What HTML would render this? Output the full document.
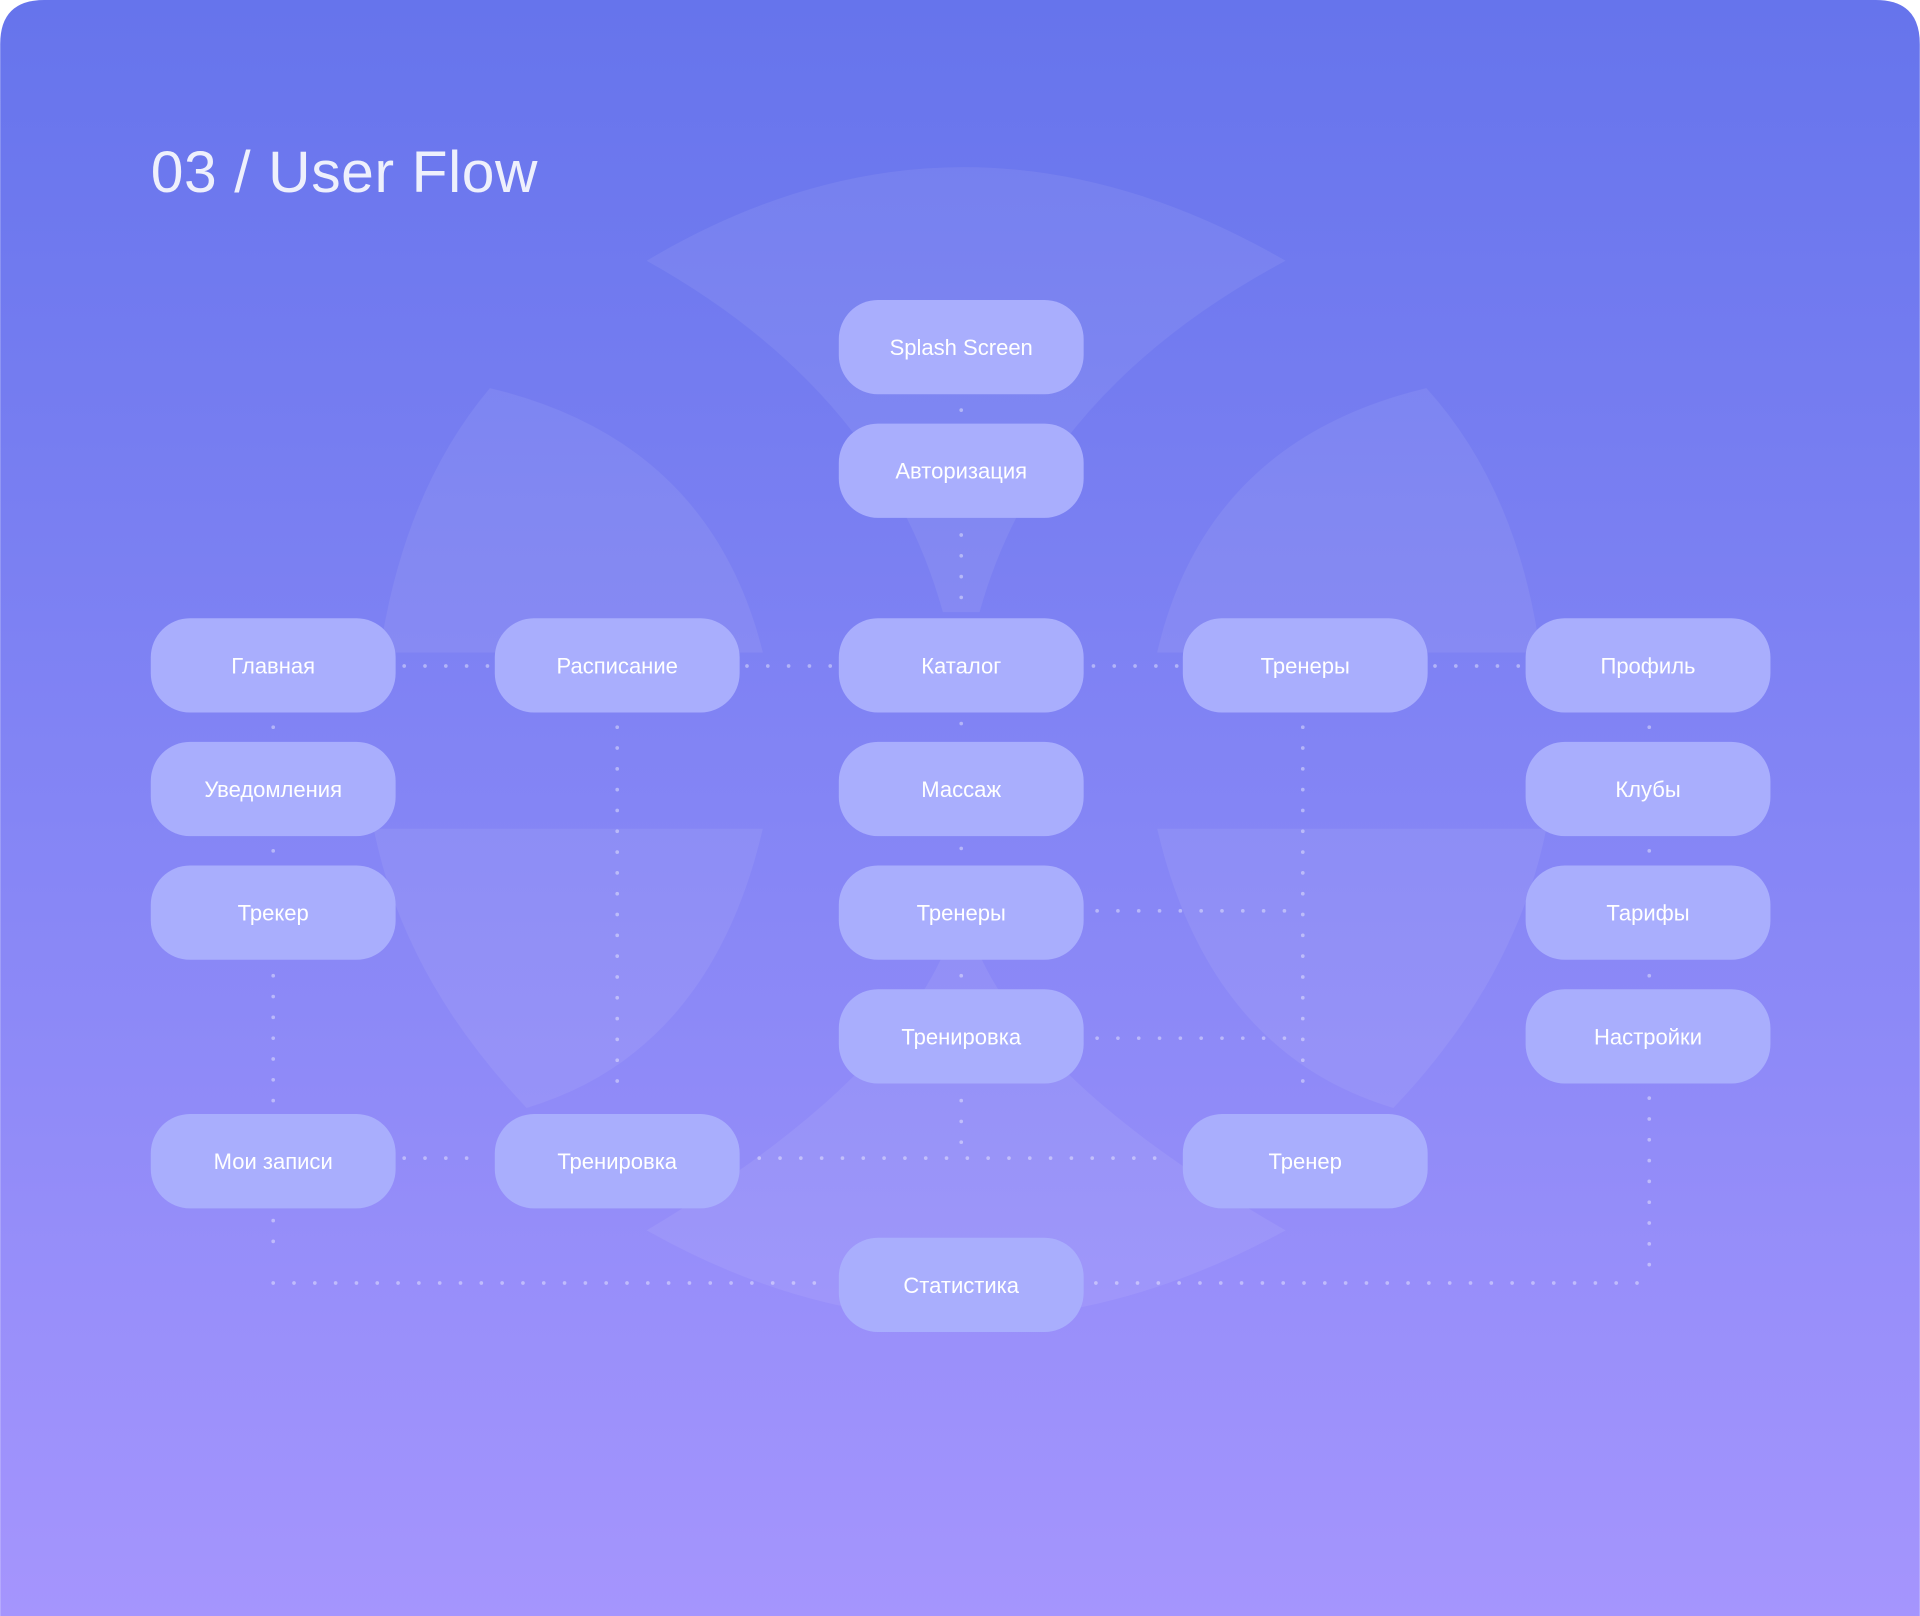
<!DOCTYPE html>
<html><head><meta charset="utf-8"><style>
html,body{margin:0;padding:0;background:#fff;}
svg{display:block;}
text{font-family:"Liberation Sans",sans-serif;}
</style></head><body>
<svg width="1920" height="1616" viewBox="0 0 1568 1320" xmlns="http://www.w3.org/2000/svg">
<defs>
<linearGradient id="bg" x1="0" y1="0" x2="0" y2="1">
<stop offset="0" stop-color="#6674ec"/><stop offset="0.5" stop-color="#8485f5"/><stop offset="1" stop-color="#a595fd"/>
</linearGradient>
</defs>
<path d="M0,36 Q0,0 36,0 L1532,0 Q1568,0 1568,36 L1568,1320 L0,1320 Z" fill="url(#bg)"/>
<g fill="#ffffff" fill-opacity="0.07">
<path d="M528,213 Q785,60 1050,213 Q850,320 800,500 L770,500 Q720,320 528,213 Z"/>
<path d="M528,1005 Q785,1150 1050,1005 Q850,890 800,780 L770,780 Q720,890 528,1005 Z"/>
<path d="M400,317 Q580,360 623,533 L310,533 Q330,400 400,317 Z"/>
<path d="M305,677 L623,677 Q580,860 430,905 Q330,800 305,677 Z"/>
<path d="M1165,317 Q985,360 945,533 L1258,533 Q1240,400 1165,317 Z"/>
<path d="M1263,677 L945,677 Q988,860 1138,905 Q1238,800 1263,677 Z"/>
</g>
<text x="123" y="157" font-size="48" letter-spacing="0.5" fill="#eef0fc">03 / User Flow</text>
<g stroke="#ffffff" stroke-opacity="0.4" stroke-width="3" stroke-linecap="round" stroke-dasharray="0 17" fill="none">
<path d="M785,335 L785,336"/>
<path d="M785,437 L785,495"/>
<path d="M785,591 L785,592"/>
<path d="M785,693 L785,694"/>
<path d="M785,797 L785,798"/>
<path d="M785,899 L785,935"/>
<path d="M620,946 L950,946"/>
<path d="M330,544 L400,544"/>
<path d="M610,544 L680,544"/>
<path d="M893,544 L963,544"/>
<path d="M1172,544 L1242,544"/>
<path d="M223,594 L223,595"/>
<path d="M223,695 L223,696"/>
<path d="M223,797 L223,900"/>
<path d="M223,997 L223,1030 M223,1048 L680,1048"/>
<path d="M504,594 L504,894"/>
<path d="M1064,594 L1064,894"/>
<path d="M896,744 L1050,744"/>
<path d="M896,848 L1050,848"/>
<path d="M330,946 L395,946"/>
<path d="M1347,594 L1347,595"/>
<path d="M1347,695 L1347,696"/>
<path d="M1347,797 L1347,798"/>
<path d="M1347,897 L1347,1035 M895,1048 L1347,1048"/>
</g>
<g fill="#a9aefd">
<rect x="685" y="245" width="200" height="77" rx="32"/>
<rect x="685" y="346" width="200" height="77" rx="32"/>
<rect x="123" y="505" width="200" height="77" rx="32"/>
<rect x="404" y="505" width="200" height="77" rx="32"/>
<rect x="685" y="505" width="200" height="77" rx="32"/>
<rect x="966" y="505" width="200" height="77" rx="32"/>
<rect x="1246" y="505" width="200" height="77" rx="32"/>
<rect x="123" y="606" width="200" height="77" rx="32"/>
<rect x="685" y="606" width="200" height="77" rx="32"/>
<rect x="1246" y="606" width="200" height="77" rx="32"/>
<rect x="123" y="707" width="200" height="77" rx="32"/>
<rect x="685" y="707" width="200" height="77" rx="32"/>
<rect x="1246" y="707" width="200" height="77" rx="32"/>
<rect x="685" y="808" width="200" height="77" rx="32"/>
<rect x="1246" y="808" width="200" height="77" rx="32"/>
<rect x="123" y="910" width="200" height="77" rx="32"/>
<rect x="404" y="910" width="200" height="77" rx="32"/>
<rect x="966" y="910" width="200" height="77" rx="32"/>
<rect x="685" y="1011" width="200" height="77" rx="32"/>
</g>
<g fill="#ffffff" font-size="18" text-anchor="middle">
<text x="785" y="290">Splash Screen</text>
<text x="785" y="391">Авторизация</text>
<text x="223" y="550">Главная</text>
<text x="504" y="550">Расписание</text>
<text x="785" y="550">Каталог</text>
<text x="1066" y="550">Тренеры</text>
<text x="1346" y="550">Профиль</text>
<text x="223" y="651">Уведомления</text>
<text x="785" y="651">Массаж</text>
<text x="1346" y="651">Клубы</text>
<text x="223" y="752">Трекер</text>
<text x="785" y="752">Тренеры</text>
<text x="1346" y="752">Тарифы</text>
<text x="785" y="853">Тренировка</text>
<text x="1346" y="853">Настройки</text>
<text x="223" y="955">Мои записи</text>
<text x="504" y="955">Тренировка</text>
<text x="1066" y="955">Тренер</text>
<text x="785" y="1056">Статистика</text>
</g>
</svg>
</body></html>
